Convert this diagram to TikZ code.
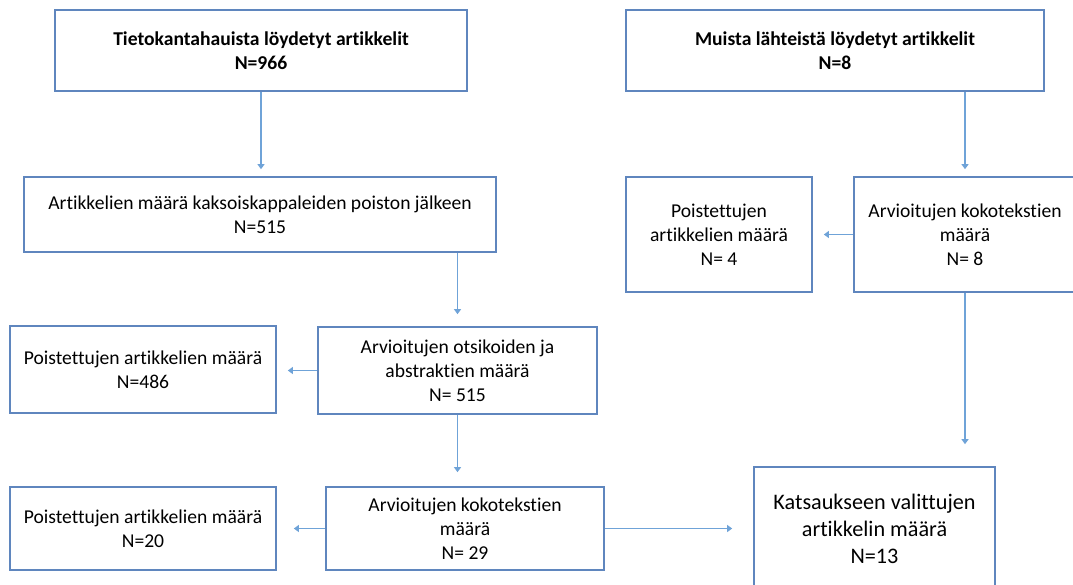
\documentclass[tikz,border=0pt]{standalone}
\usepackage{fontspec}
\setmainfont{Carlito}[Ligatures={NoCommon}]
\usetikzlibrary{arrows.meta,calc}
\definecolor{boxline}{HTML}{5F86BE}
\definecolor{arrline}{HTML}{6FA3D8}
\begin{document}
\begin{tikzpicture}[x=1pt,y=-1pt,
  box/.style={draw=boxline,line width=1.7pt,align=center,inner sep=0pt,
    font=\fontsize{19.6}{23.8}\selectfont,text=black},
  bigbox/.style={box,font=\fontsize{22.2}{27}\selectfont},
  arr/.style={draw=arrline,line width=1.4pt,-{Triangle[length=5pt,width=7pt]}}]
\useasboundingbox[fill=white] (0,0) rectangle (1073,584);
% boxes: centre = ((x1+x2)/2,(y1+y2)/2)
\node[box,minimum width=412,minimum height=81] (b1) at (261,50.5)
  {\textbf{Tietokantahauista löydetyt artikkelit}\\\textbf{N=966}};
\node[box,minimum width=472,minimum height=75] (b2) at (260,214.5)
  {Artikkelien määrä kaksoiskappaleiden poiston jälkeen\\N=515};
\node[box,minimum width=279,minimum height=87] (b3) at (457.5,370.5)
  {Arvioitujen otsikoiden ja\\abstraktien määrä\\N= 515};
\node[box,minimum width=266,minimum height=87] (b4) at (143,369.5)
  {Poistettujen artikkelien määrä\\N=486};
\node[box,minimum width=278,minimum height=83] (b5) at (465,528.5)
  {Arvioitujen kokotekstien\\määrä\\N= 29};
\node[box,minimum width=266,minimum height=83] (b6) at (143,528.5)
  {Poistettujen artikkelien määrä\\N=20};
\node[bigbox,minimum width=241,minimum height=124] (b7) at (874.5,529)
  {Katsaukseen valittujen\\artikkelin määrä\\N=13};
\node[box,minimum width=418,minimum height=81] (b8) at (835,50.5)
  {\textbf{Muista lähteistä löydetyt artikkelit}\\\textbf{N=8}};
\node[box,minimum width=222,minimum height=115] (b9) at (965,234.5)
  {Arvioitujen kokotekstien\\määrä\\N= 8};
\node[box,minimum width=186,minimum height=115] (b10) at (719,234.5)
  {Poistettujen\\artikkelien määrä\\N= 4};
% connectors
\draw[arr,shorten >=7pt] (b1.south) -- (b1.south |- b2.north);
\draw[arr,shorten >=12pt] (b2.south -| b3.north) -- (b3.north);
\draw[arr,shorten >=11pt] (b3.west) -- (b4.east |- b3.west);
\draw[arr,shorten >=14pt] (b3.south) -- (b3.south |- b5.north);
\draw[arr,shorten >=17pt] (b5.west) -- (b6.east);
\draw[arr,shorten >=21pt] (b5.east) -- (b7.west |- b5.east);
\draw[arr,shorten >=7pt] (b8.south -| b9.north) -- (b9.north);
\draw[arr,shorten >=11pt] (b9.west) -- (b10.east);
\draw[arr,shorten >=22pt] (b9.south) -- (b9.south |- b7.north);
\end{tikzpicture}
\end{document}
